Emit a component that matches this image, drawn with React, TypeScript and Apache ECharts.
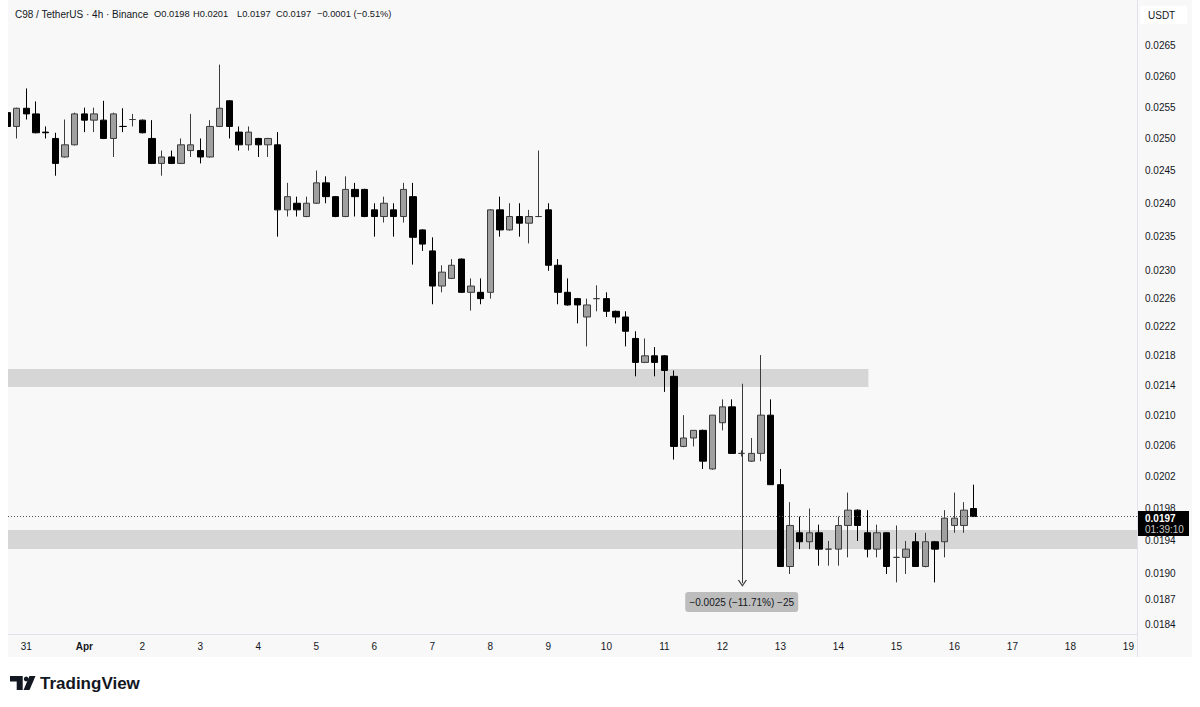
import React, { useEffect, useRef } from "react";
import * as echarts from "echarts";

// 4h candles, first = Mar 30 16:00, last = Apr 16 08:00
const OPEN = [
  0.02541, 0.02519, 0.02548, 0.02539, 0.02510, 0.02500, 0.02471, 0.02490, 0.02539, 0.02529,
  0.02529, 0.02500, 0.02519, 0.02530, 0.02529, 0.02500, 0.02461, 0.02471, 0.02461, 0.02481,
  0.02481, 0.02471, 0.02519, 0.02560, 0.02510, 0.02490, 0.02500, 0.02490, 0.02490, 0.02390,
  0.02400, 0.02380, 0.02400, 0.02431, 0.02410, 0.02380, 0.02421, 0.02421, 0.02390, 0.02380,
  0.02390, 0.02380, 0.02410, 0.02360, 0.02329, 0.02278, 0.02289, 0.02317, 0.02269, 0.02269,
  0.02269, 0.02390, 0.02360, 0.02380, 0.02370, 0.02380, 0.02390, 0.02308, 0.02269, 0.02260,
  0.02234, 0.02260, 0.02260, 0.02242, 0.02234, 0.02204, 0.02171, 0.02180, 0.02180, 0.02152,
  0.02059, 0.02070, 0.02080, 0.02030, 0.02090, 0.02111, 0.02050, 0.02040, 0.02050, 0.02100,
  0.02010, 0.01909, 0.01950, 0.01939, 0.01950, 0.01930, 0.01930, 0.01959, 0.01978, 0.01950,
  0.01930, 0.01950, 0.01920, 0.01920, 0.01939, 0.01909, 0.01939, 0.01939, 0.01959, 0.01959,
  0.01980,
];
const HIGH = [
  0.02545, 0.02549, 0.02580, 0.02559, 0.02519, 0.02509, 0.02530, 0.02541, 0.02549, 0.02549,
  0.02560, 0.02541, 0.02548, 0.02539, 0.02530, 0.02529, 0.02481, 0.02481, 0.02500, 0.02539,
  0.02500, 0.02529, 0.02619, 0.02561, 0.02519, 0.02519, 0.02501, 0.02501, 0.02510, 0.02431,
  0.02410, 0.02410, 0.02450, 0.02441, 0.02411, 0.02441, 0.02431, 0.02422, 0.02400, 0.02410,
  0.02400, 0.02431, 0.02431, 0.02361, 0.02349, 0.02308, 0.02317, 0.02318, 0.02289, 0.02289,
  0.02391, 0.02410, 0.02400, 0.02400, 0.02390, 0.02481, 0.02400, 0.02317, 0.02289, 0.02261,
  0.02260, 0.02279, 0.02269, 0.02243, 0.02242, 0.02214, 0.02204, 0.02192, 0.02181, 0.02160,
  0.02100, 0.02080, 0.02081, 0.02100, 0.02121, 0.02121, 0.02054, 0.02070, 0.02181, 0.02121,
  0.02030, 0.01988, 0.01970, 0.01980, 0.01960, 0.01940, 0.01970, 0.02000, 0.01979, 0.01978,
  0.01960, 0.01951, 0.01959, 0.01940, 0.01950, 0.01950, 0.01940, 0.01978, 0.02000, 0.01988,
  0.02010,
];
const LOW = [
  0.02518, 0.02500, 0.02530, 0.02508, 0.02500, 0.02442, 0.02470, 0.02489, 0.02510, 0.02510,
  0.02499, 0.02471, 0.02510, 0.02519, 0.02508, 0.02460, 0.02442, 0.02460, 0.02460, 0.02471,
  0.02461, 0.02470, 0.02518, 0.02500, 0.02481, 0.02481, 0.02471, 0.02471, 0.02350, 0.02380,
  0.02380, 0.02379, 0.02399, 0.02400, 0.02379, 0.02379, 0.02380, 0.02379, 0.02350, 0.02371,
  0.02350, 0.02371, 0.02309, 0.02329, 0.02252, 0.02269, 0.02288, 0.02268, 0.02243, 0.02252,
  0.02260, 0.02350, 0.02359, 0.02350, 0.02340, 0.02379, 0.02300, 0.02252, 0.02250, 0.02225,
  0.02193, 0.02242, 0.02234, 0.02225, 0.02193, 0.02152, 0.02170, 0.02152, 0.02131, 0.02042,
  0.02058, 0.02059, 0.02030, 0.02029, 0.02080, 0.02050, 0.02046, 0.02039, 0.02040, 0.02010,
  0.01909, 0.01900, 0.01930, 0.01930, 0.01910, 0.01910, 0.01910, 0.01920, 0.01940, 0.01920,
  0.01920, 0.01900, 0.01890, 0.01900, 0.01909, 0.01908, 0.01890, 0.01920, 0.01950, 0.01950,
  0.01970,
];
const CLOSE = [
  0.02519, 0.02548, 0.02539, 0.02509, 0.02509, 0.02461, 0.02490, 0.02539, 0.02529, 0.02539,
  0.02500, 0.02539, 0.02519, 0.02530, 0.02509, 0.02461, 0.02471, 0.02461, 0.02490, 0.02490,
  0.02471, 0.02519, 0.02548, 0.02519, 0.02490, 0.02510, 0.02490, 0.02500, 0.02390, 0.02410,
  0.02390, 0.02400, 0.02431, 0.02410, 0.02380, 0.02421, 0.02410, 0.02380, 0.02380, 0.02400,
  0.02380, 0.02421, 0.02349, 0.02339, 0.02278, 0.02298, 0.02308, 0.02269, 0.02278, 0.02260,
  0.02390, 0.02360, 0.02380, 0.02370, 0.02380, 0.02380, 0.02308, 0.02269, 0.02251, 0.02251,
  0.02251, 0.02260, 0.02242, 0.02234, 0.02214, 0.02171, 0.02180, 0.02171, 0.02160, 0.02059,
  0.02070, 0.02080, 0.02040, 0.02100, 0.02111, 0.02050, 0.02050, 0.02050, 0.02100, 0.02010,
  0.01909, 0.01959, 0.01939, 0.01950, 0.01930, 0.01930, 0.01959, 0.01978, 0.01959, 0.01930,
  0.01950, 0.01909, 0.01920, 0.01930, 0.01909, 0.01939, 0.01930, 0.01968, 0.01968, 0.01978,
  0.01970,
];

const DAY_LABELS = ["31", "Apr", "2", "3", "4", "5", "6", "7", "8", "9", "10", "11", "12", "13", "14", "15", "16", "17", "18", "19"];
const PRICE_TICKS = [0.0265, 0.026, 0.0255, 0.025, 0.0245, 0.024, 0.0235, 0.023, 0.0226, 0.0222, 0.0218, 0.0214, 0.021, 0.0206, 0.0202, 0.0198, 0.0194, 0.019, 0.0187, 0.0184];

const ZONE_UPPER = { top: 0.02162, bottom: 0.021376, endIndex: 89.1 };
const ZONE_LOWER = { top: 0.019534, bottom: 0.019301 };
const LAST_PRICE = 0.0197;
const MEASURE = { index: 76.07, from: 0.02142, to: 0.01889, labelIndex: 76.0, labelPrice: 0.018667, label: "\u22120.0025 (\u221211.71%) \u221225" };

const X_MIN = 0.1;
const X_MAX = 116.89;
const Y_MIN = 0.018295;
const Y_MAX = 0.027279;

const HEADER_TITLE = "C98 / TetherUS \u00b7 4h \u00b7 Binance";
const HEADER_VALUES = [
  { text: "O0.0198", x: 154 },
  { text: "H0.0201", x: 193 },
  { text: "L0.0197", x: 237 },
  { text: "C0.0197", x: 276 },
  { text: "\u22120.0001 (\u22120.51%)", x: 317 },
];

const FONT = '"Liberation Sans", Arial, sans-serif';
const INK = "#131722";

export default function App() {
  const ref = useRef<HTMLDivElement>(null);
  useEffect(() => {
    if (!ref.current) return;
    const chart = echarts.init(ref.current, null, { renderer: "svg" });
    const L = Math.log;
    const data = OPEN.map((o, i) => [i, L(o), L(CLOSE[i]), L(LOW[i]), L(HIGH[i])]);
    const dayTicks = DAY_LABELS.map((_, k) => 2 + 6 * k);

    const option: any = {
      animation: false,
      backgroundColor: "transparent",
      grid: { left: 8, right: 63, top: 0, bottom: 73, containLabel: false, outerBoundsMode: "none" },
      xAxis: {
        type: "value",
        min: X_MIN,
        max: X_MAX,
        axisLine: { show: true, lineStyle: { color: "#e0e3eb", width: 1 } },
        axisTick: { show: false },
        splitLine: { show: false },
        axisLabel: {
          customValues: dayTicks,
          formatter: (v: number) => {
            const lab = DAY_LABELS[Math.round((v - 2) / 6)] ?? "";
            return lab === "Apr" ? "{b|Apr}" : lab;
          },
          rich: { b: { fontWeight: "bold", fontSize: 10, fontFamily: FONT, color: INK } },
          color: INK,
          fontSize: 10,
          fontFamily: FONT,
          margin: 7,
        },
      },
      yAxis: {
        type: "value",
        position: "right",
        min: L(Y_MIN),
        max: L(Y_MAX),
        axisLine: { show: true, lineStyle: { color: "#e0e3eb", width: 1 } },
        axisTick: { show: false },
        splitLine: { show: false },
        axisLabel: {
          customValues: PRICE_TICKS.map((p) => L(p)),
          formatter: (v: number) => Math.exp(v).toFixed(4),
          color: INK,
          fontSize: 10,
          fontFamily: FONT,
          margin: 8,
        },
      },
      series: [
        {
          type: "candlestick",
          data,
          encode: { x: 0, y: [1, 2, 3, 4] },
          barWidth: 7,
          clip: true,
          itemStyle: {
            color: "#a0a0a0",
            color0: "#000000",
            borderColor: "#3c3c3c",
            borderColor0: "#000000",
            borderWidth: 1,
          },
          markArea: {
            silent: true,
            itemStyle: { color: "#d6d6d6" },
            data: [
              [
                { xAxis: X_MIN, yAxis: L(ZONE_UPPER.top) },
                { xAxis: ZONE_UPPER.endIndex, yAxis: L(ZONE_UPPER.bottom) },
              ],
              [
                { xAxis: X_MIN, yAxis: L(ZONE_LOWER.top) },
                { xAxis: X_MAX, yAxis: L(ZONE_LOWER.bottom) },
              ],
            ],
          },
          markLine: {
            silent: true,
            label: { show: false },
            data: [
              [
                { coord: [X_MIN, L(LAST_PRICE)], symbol: "none" },
                { coord: [X_MAX, L(LAST_PRICE)], symbol: "none", lineStyle: { type: [1, 2], color: "#555555", width: 1 } },
              ],
              [
                { coord: [MEASURE.index, L(MEASURE.from)], symbol: "none" },
                {
                  coord: [MEASURE.index, L(MEASURE.to)],
                  symbol: "path://M0,9 L5,0 L10,9 L8.8,9.8 L5,2.6 L1.2,9.8 Z",
                  symbolSize: [9, 7],
                  lineStyle: { type: "solid", color: "#3a3a3a", width: 1 },
                },
              ],
            ],
          },
          markPoint: {
            silent: true,
            data: [
              {
                coord: [MEASURE.labelIndex, L(MEASURE.labelPrice)],
                symbol: "path://M3,0 H110 Q113,0 113,3 V17 Q113,20 110,20 H3 Q0,20 0,17 V3 Q0,0 3,0 Z",
                symbolSize: [113, 20],
                symbolKeepAspect: false,
                itemStyle: { color: "#bdbdbd" },
                label: {
                  show: true,
                  position: "inside",
                  formatter: MEASURE.label,
                  color: INK,
                  fontSize: 10,
                  fontFamily: FONT,
                },
              },
            ],
          },
        },
      ],
      graphic: {
        elements: [
          { type: "rect", z: -10, silent: true, shape: { x: 8, y: 0, width: 1184, height: 657 }, style: { fill: "#f8f8f8" } },
          { type: "rect", z: 40, silent: true, shape: { x: 0, y: 0, width: 8, height: 707 }, style: { fill: "#ffffff" } },
          { type: "line", z: -5, silent: true, shape: { x1: 1137.5, y1: 0, x2: 1137.5, y2: 657 }, style: { stroke: "#e0e3eb", lineWidth: 1 } },
          {
            type: "text",
            z: 50,
            x: 15,
            y: 14,
            style: { text: HEADER_TITLE, fill: INK, fontSize: 10, fontFamily: FONT, align: "left", verticalAlign: "middle" },
          },
          ...HEADER_VALUES.map((h) => ({
            type: "text",
            z: 50,
            x: h.x,
            y: 14,
            style: { text: h.text, fill: INK, fontSize: 9.3, fontFamily: FONT, align: "left", verticalAlign: "middle" },
          })),
          { type: "rect", z: 50, shape: { x: 1140, y: 6, width: 47, height: 18 }, style: { fill: "#ffffff" } },
          { type: "text", z: 51, x: 1148, y: 15, style: { text: "USDT", fill: INK, fontSize: 10, fontFamily: FONT, align: "left", verticalAlign: "middle" } },
          { type: "rect", z: 50, shape: { x: 1138, y: 511, width: 51, height: 25 }, style: { fill: "#000000" } },
          { type: "text", z: 51, x: 1145, y: 518, style: { text: "0.0197", fill: "#ffffff", fontSize: 10, fontWeight: "bold", fontFamily: FONT, align: "left", verticalAlign: "middle" } },
          { type: "text", z: 51, x: 1145, y: 529.5, style: { text: "01:39:10", fill: "#c8c8c8", fontSize: 10, fontFamily: FONT, align: "left", verticalAlign: "middle" } },
          { type: "polygon", z: 50, shape: { points: [[10, 676], [22.7, 676], [22.7, 690], [16.7, 690], [16.7, 681.5], [10, 681.5]] }, style: { fill: INK } },
          { type: "circle", z: 50, shape: { cx: 26.2, cy: 679, r: 2.4 }, style: { fill: INK } },
          { type: "polygon", z: 50, shape: { points: [[29.5, 676], [35.5, 676], [29.5, 690], [23.5, 690]] }, style: { fill: INK } },
          { type: "text", z: 50, x: 40, y: 683, style: { text: "TradingView", fill: INK, fontSize: 17, fontWeight: "bold", fontFamily: FONT, align: "left", verticalAlign: "middle" } },
        ],
      },
    };
    chart.setOption(option);
    return () => chart.dispose();
  }, []);
  return (
    <div
      ref={ref}
      style={{ position: "fixed", left: 0, top: 0, width: 1200, height: 707, background: "#ffffff" }}
    />
  );
}
